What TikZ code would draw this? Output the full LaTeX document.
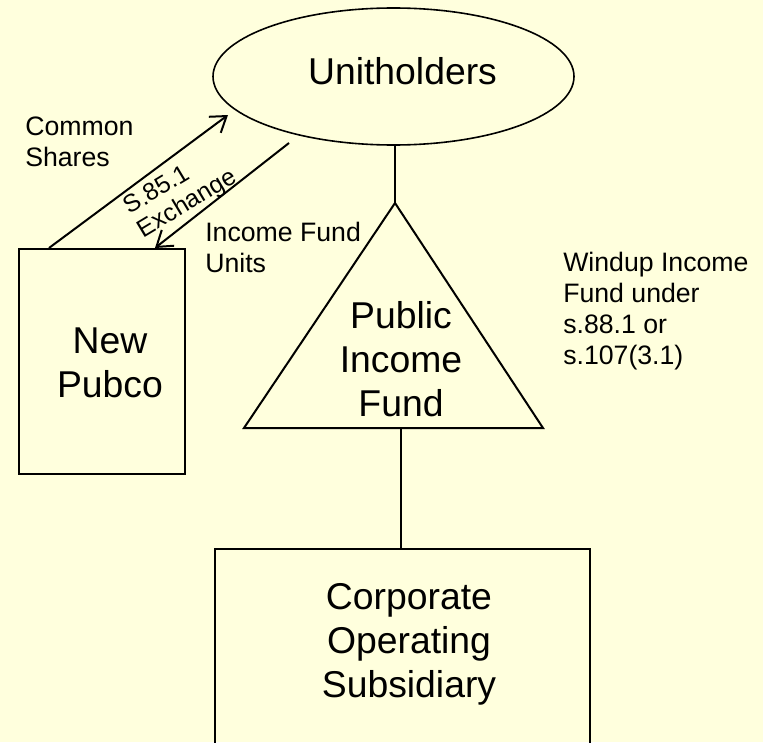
\documentclass[tikz,border=0pt]{standalone}
\usepackage{fontspec}
\setmainfont{Liberation Sans}
\usetikzlibrary{shapes.geometric,arrows.meta}
\definecolor{paper}{HTML}{FFFFDD}
\tikzset{
  bigtxt/.style={inner sep=0pt, align=center, font=\fontsize{28}{33}\selectfont},
  smalltxt/.style={inner sep=0pt, align=left, font=\fontsize{20}{23.3}\selectfont},
  slanttxt/.style={inner sep=0pt, align=left, font=\fontsize{18.5}{20.25}\selectfont},
  outline/.style={draw=black, line width=1.5pt},
  link/.style={draw=black, line width=1.2pt},
  flow/.style={draw=black, line width=1.5pt, -{Straight Barb[length=11pt,width=15pt]}},
}
\begin{document}
\begin{tikzpicture}[x=0.75pt, y=-0.75pt]
  % page and background
  \useasboundingbox (0,0) rectangle (763,742);
  \clip (0,0) rectangle (763,742);
  \fill[paper] (0,0) rectangle (763,742);

  % Unitholders
  \node[ellipse, draw, line width=1.2pt, inner sep=0pt,
        minimum width=270.75pt, minimum height=102.75pt] (uh) at (393.5,76.5) {};
  \node[bigtxt, anchor=north] (uhtext) at (402.5,57) {Unitholders};

  % Public Income Fund (triangle)
  \coordinate (apex) at (395,203);
  \coordinate (bl) at (244,428);
  \coordinate (br) at (543,428);
  \draw[outline] (apex) -- (br) -- (bl) -- cycle;
  \node[bigtxt, anchor=north] (pif) at (401,301) {Public\\Income\\Fund};

  % New Pubco
  \node[outline, rectangle, anchor=north west, inner sep=0pt,
        minimum width=124.5pt, minimum height=168.75pt] (pubco) at (18,248) {};
  \node[bigtxt, anchor=north] (pubcotext) at (110,328) {New\\Pubco};

  % Corporate Operating Subsidiary
  \node[outline, rectangle, anchor=north west, inner sep=0pt,
        minimum width=281.25pt, minimum height=187.5pt] (sub) at (214,548) {};
  \node[bigtxt, anchor=north] (subtext) at (409,583) {Corporate\\Operating\\Subsidiary};

  % ownership links
  \draw[link] (apex |- uh.south) -- (apex);
  \draw[link] (pif.south |- bl) -- (pif.south |- sub.north);

  % exchange arrows
  \coordinate (a1s) at (49,248);
  \coordinate (a1e) at (228,115);
  \coordinate (a2s) at (289,143);
  \coordinate (a2e) at (155,248);
  \draw[flow] (a1s) -- (a1e);
  \draw[flow] (a2s) -- (a2e);

  % labels
  \node[smalltxt, anchor=north west] (common) at (25,117) {Common\\Shares};
  \node[smalltxt, anchor=north west] (ifu) at (205,222) {Income Fund\\Units};
  \node[smalltxt, anchor=north west] (windup) at (563,252) {Windup Income\\Fund under\\s.88.1 or\\s.107(3.1)};
  \node[slanttxt, anchor=north west, rotate=31] (exch) at (120.7,200) {S.85.1\\Exchange};
\end{tikzpicture}
\end{document}
